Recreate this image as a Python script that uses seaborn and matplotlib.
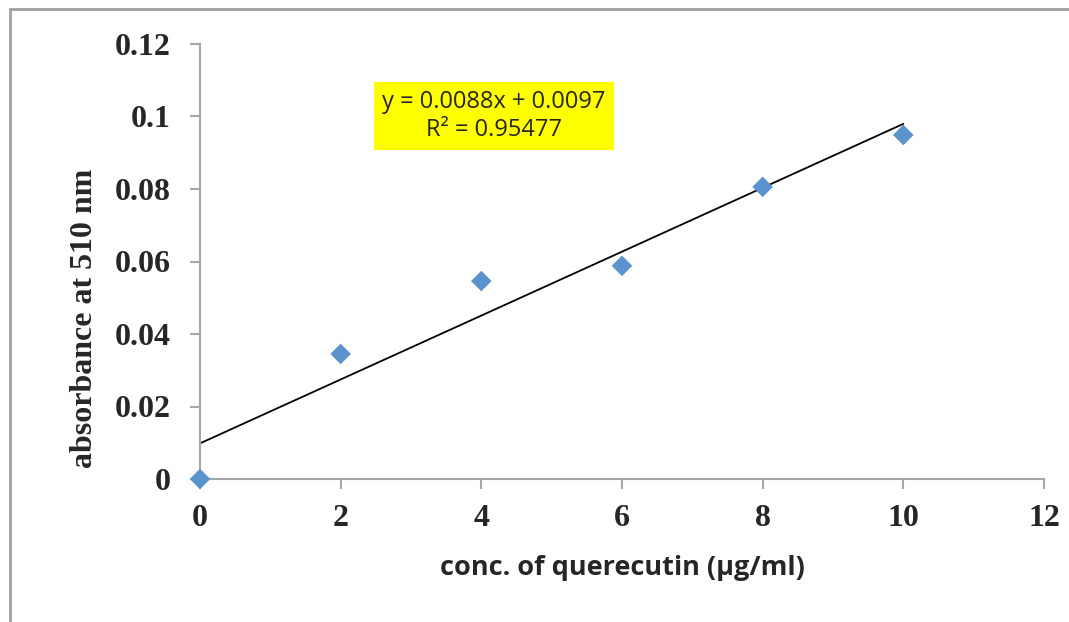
import matplotlib
matplotlib.use("Agg")
import matplotlib.pyplot as plt
import seaborn as sns
import numpy as np
import pandas as pd
from matplotlib.patches import Rectangle

# Data
conc = [0, 2, 4, 6, 8, 10]
absorbance = [0.0, 0.0345, 0.0546, 0.0588, 0.0806, 0.0949]
x_ticks = [0, 2, 4, 6, 8, 10, 12]
y_ticks = [0, 0.02, 0.04, 0.06, 0.08, 0.1, 0.12]
y_tick_labels = ["0", "0.02", "0.04", "0.06", "0.08", "0.1", "0.12"]
equation_text = "y = 0.0088x + 0.0097\nR² = 0.95477"

df = pd.DataFrame({"conc": conc, "absorbance": absorbance})

sns.set_style("white")
plt.rcParams['font.family'] = ['DejaVu Sans']

fig = plt.figure(figsize=(10.69, 6.22), dpi=100)
ax = fig.add_axes([200/1069, 1-479/622, (1044-200)/1069, (479-44)/622])

# trend line
sns.regplot(data=df, x="conc", y="absorbance", ax=ax, ci=None, scatter=False,
            truncate=True, line_kws=dict(color="black", lw=1.3), fit_reg=True)
sns.scatterplot(data=df, x="conc", y="absorbance", ax=ax, marker="D", s=110,
                color="#5B93CF", edgecolor="none", zorder=5, clip_on=False)

ax.set_xlim(0, 12)
ax.set_ylim(0, 0.12)
ax.set_xticks(x_ticks)
ax.set_yticks(y_ticks)
ax.set_xticklabels([str(t) for t in x_ticks])
ax.set_yticklabels(y_tick_labels)

for lab in ax.get_xticklabels() + ax.get_yticklabels():
    lab.set_fontfamily("Liberation Serif")
    lab.set_fontweight("bold")
    lab.set_fontsize(23)

axis_col = "#A6A6A6"
for s in ["top", "right"]:
    ax.spines[s].set_visible(False)
for s in ["left", "bottom"]:
    ax.spines[s].set_color(axis_col)
    ax.spines[s].set_linewidth(1.5)
ax.tick_params(axis="both", direction="out", length=7, width=1.5, color=axis_col,
               left=True, bottom=True)
ax.tick_params(axis="y", pad=14)
ax.tick_params(axis="x", pad=11)

ax.set_xlabel("conc. of querecutin (µg/ml)", fontfamily="Open Sans", fontweight="bold",
              fontsize=19.5)
ax.xaxis.set_label_coords(0.5, -0.175)
ax.set_ylabel("absorbance at 510 nm", fontfamily="Liberation Serif", fontweight="bold",
              fontsize=23)
ax.yaxis.set_label_coords(-0.12, 0.37)

ax.text((375+613)/2/1069, 1-116/622, equation_text, transform=fig.transFigure,
        ha="center", va="center", fontfamily="Open Sans", fontsize=17,
        linespacing=1.2,
        bbox=dict(boxstyle="square,pad=0.35", facecolor="#FFFF00", edgecolor="none"))

# chart border
fig.patches.append(Rectangle((10/1069, -0.1), 1.2, 1-9/622 + 0.1,
                             transform=fig.transFigure, fill=False,
                             edgecolor="#A0A0A0", lw=2, clip_on=False))

fig.savefig("out.png", dpi=100)
